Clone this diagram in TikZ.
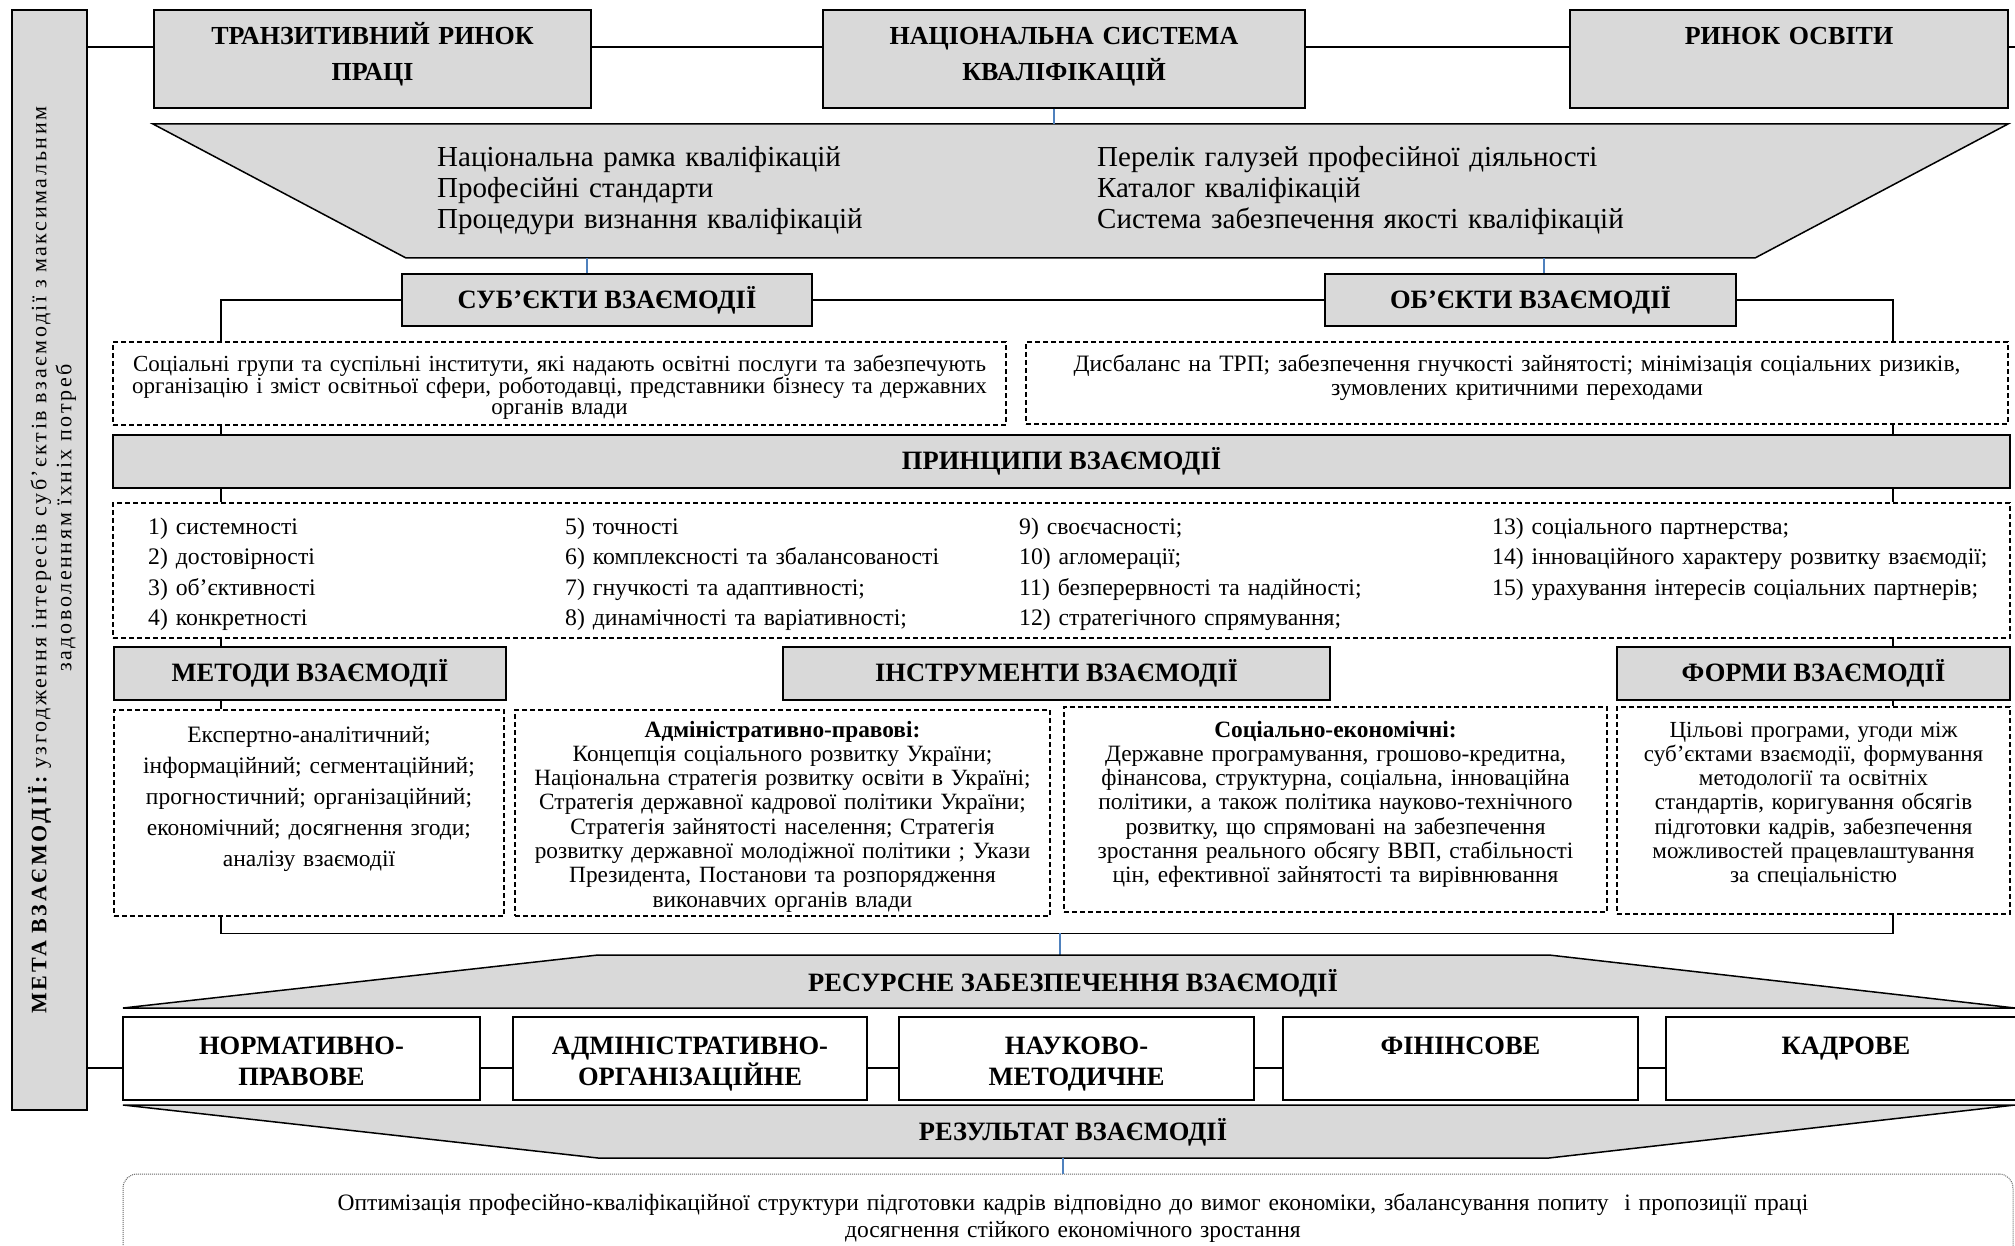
\documentclass[tikz,border=0pt]{standalone}
\usepackage{fontspec}
\setmainfont{Liberation Serif}
\newfontfamily\barfont[LetterSpace=12]{Liberation Serif}
\usetikzlibrary{calc}
\definecolor{boxgray}{RGB}{217,217,217}
\definecolor{linkblue}{RGB}{79,129,189}
\newcommand{\hdrfont}{\fontsize{26.5}{31}\selectfont\bfseries}
\lineskiplimit=-30pt

\begin{document}
\begin{tikzpicture}[x=1pt,y=-1pt,
  gbox/.style={draw,fill=boxgray,line width=1.5pt,inner sep=0pt,font=\hdrfont},
  wbox/.style={draw,fill=white,line width=1.5pt,inner sep=0pt},
  dbox/.style={draw,line width=1.2pt,dash pattern=on 5pt off 3pt,inner sep=0pt},
  txt/.style={inner sep=0pt,align=center,anchor=base},
  link/.style={line width=1.3pt},
  blink/.style={draw=linkblue,line width=1.2pt}]

\useasboundingbox (0,0) rectangle (2015,1246);

\coordinate (toprow) at (0,47);
\coordinate (topend) at (2015,47);
\coordinate (resrow) at (0,1068);
\coordinate (lspine) at (221,0);
\coordinate (rspine) at (1893,0);

% meta bar
\node[gbox, minimum width=75, minimum height=1100] (bar) at (49.5,560) {};
\node[txt, anchor=center, rotate=90, text width=980, font={\barfont\fontsize{22}{25}\selectfont}] (bar-t) at (52,560) {{\bfseries МЕТА ВЗАЄМОДІЇ:} узгодження інтересів суб’єктів взаємодії з максимальним\\\hspace*{84pt}задоволенням їхніх потреб};

% top row
\node[gbox, minimum width=437, minimum height=98] (trp) at (372.5,59) {};
\node[gbox, minimum width=482, minimum height=98] (nsk) at (1064,59) {};
\node[gbox, minimum width=438, minimum height=98] (ro) at (1789,59) {};
\node[txt, text width=430, font={\fontsize{26}{36}\selectfont\bfseries}] (trp-t) at (372.5,45) {ТРАНЗИТИВНИЙ РИНОК\\ПРАЦІ};
\node[txt, text width=470, font={\fontsize{26}{36}\selectfont\bfseries}] (nsk-t) at (1064,45) {НАЦІОНАЛЬНА СИСТЕМА\\КВАЛІФІКАЦІЙ};
\node[txt, text width=430, font={\fontsize{26}{36}\selectfont\bfseries}] (ro-t) at (1789,45) {РИНОК ОСВІТИ};

\draw[link] (bar.east |- toprow) -- (trp.west |- toprow);
\draw[link] (trp.east |- toprow) -- (nsk.west |- toprow);
\draw[link] (nsk.east |- toprow) -- (ro.west |- toprow);
\draw[link] (ro.east |- toprow) -- (topend);

% qualifications
\filldraw[fill=boxgray, line width=1.5pt] (153,124) -- (2008,124) -- (1755,258) -- (406,258) -- cycle;
\coordinate (nrk-in) at (1054,124);
\coordinate (nrk-outl) at (587,258);
\coordinate (nrk-outr) at (1544,258);
\node[txt, anchor=base west, align=left, text width=640, font={\fontsize{29}{31}\selectfont}] (nrk-l) at (437,167) {Національна рамка кваліфікацій\\Професійні стандарти\\Процедури визнання кваліфікацій};
\node[txt, anchor=base west, align=left, text width=640, font={\fontsize{29}{31}\selectfont}] (nrk-r) at (1097,167) {Перелік галузей професійної діяльності\\Каталог кваліфікацій\\Система забезпечення якості кваліфікацій};
\draw[blink] (nsk.south -| nrk-in) -- (nrk-in);

% subjects and objects
\node[gbox, minimum width=410, minimum height=52] (sub) at (607,300) {СУБ’ЄКТИ ВЗАЄМОДІЇ};
\node[gbox, minimum width=411, minimum height=52] (obj) at (1530.5,300) {ОБ’ЄКТИ ВЗАЄМОДІЇ};
\draw[blink] (nrk-outl) -- (sub.north -| nrk-outl);
\draw[blink] (nrk-outr) -- (obj.north -| nrk-outr);

\node[dbox, minimum width=893, minimum height=83] (subd) at (559.5,383.5) {};
\node[dbox, minimum width=982, minimum height=82] (objd) at (1517,383) {};
\node[txt, text width=920, font={\fontsize{23}{21}\selectfont}] (subd-t) at (559.5,371) {Соціальні групи та суспільні інститути, які надають освітні послуги та забезпечують\\організацію і зміст освітньої сфери, роботодавці, представники бізнесу та державних\\органів влади};
\node[txt, text width=990, font={\fontsize{23.5}{24}\selectfont}] (objd-t) at (1517,371) {Дисбаланс на ТРП; забезпечення гнучкості зайнятості; мінімізація соціальних ризиків,\\зумовлених критичними переходами};

\draw[link] (subd.north -| lspine) |- (sub.west);
\draw[link] (sub.east) -- (obj.west);
\draw[link] (obj.east) -| (objd.north -| rspine);

% principles
\node[gbox, minimum width=1897, minimum height=53] (prin) at (1061.5,461.5) {ПРИНЦИПИ ВЗАЄМОДІЇ};
\draw[link] (subd.south -| lspine) -- (prin.north -| lspine);
\draw[link] (objd.south -| rspine) -- (prin.north -| rspine);

\node[dbox, minimum width=1897, minimum height=135] (prind) at (1061.5,570.5) {};
\draw[link] (prin.south -| lspine) -- (prind.north -| lspine);
\draw[link] (prin.south -| rspine) -- (prind.north -| rspine);
\node[txt, anchor=base west, align=left, text width=400, font={\fontsize{23.7}{30.5}\selectfont}] (pr1) at (148,534) {1) системності\\2) достовірності\\3) об’єктивності\\4) конкретності};
\node[txt, anchor=base west, align=left, text width=440, font={\fontsize{23.7}{30.5}\selectfont}] (pr2) at (565,534) {5) точності\\6) комплексності та збалансованості\\7) гнучкості та адаптивності;\\8) динамічності та варіативності;};
\node[txt, anchor=base west, align=left, text width=460, font={\fontsize{23.7}{30.5}\selectfont}] (pr3) at (1019,534) {9) своєчасності;\\10) агломерації;\\11) безперервності та надійності;\\12) стратегічного спрямування;};
\node[txt, anchor=base west, align=left, text width=560, font={\fontsize{23.7}{30.5}\selectfont}] (pr4) at (1492,534) {13) соціального партнерства;\\14) інноваційного характеру розвитку взаємодії;\\15) урахування інтересів соціальних партнерів;};

% methods, tools, forms
\node[gbox, minimum width=392, minimum height=53] (meth) at (310,673.5) {МЕТОДИ ВЗАЄМОДІЇ};
\node[gbox, minimum width=547, minimum height=53] (instr) at (1056.5,673.5) {ІНСТРУМЕНТИ ВЗАЄМОДІЇ};
\node[gbox, minimum width=393, minimum height=53] (form) at (1813.5,673.5) {ФОРМИ ВЗАЄМОДІЇ};
\draw[link] (prind.south -| lspine) -- (meth.north -| lspine);
\draw[link] (prind.south -| rspine) -- (form.north -| rspine);

\node[dbox, minimum width=390, minimum height=206] (methd) at (309,813) {};
\node[dbox, minimum width=535, minimum height=206] (admd) at (782.5,813) {};
\node[dbox, minimum width=543, minimum height=205] (socd) at (1335.5,809.5) {};
\node[dbox, minimum width=393, minimum height=207] (formd) at (1813.5,810.5) {};
\draw[link] (meth.south -| lspine) -- (methd.north -| lspine);
\draw[link] (form.south -| rspine) -- (formd.north -| rspine);

\node[txt, text width=400, font={\fontsize{23.5}{31}\selectfont}] (methd-t) at (309,742) {Експертно-аналітичний;\\інформаційний; сегментаційний;\\прогностичний; організаційний;\\економічний; досягнення згоди;\\аналізу взаємодії};
\node[txt, text width=570, font={\fontsize{23.3}{24.3}\selectfont}] (admd-t) at (782.5,737) {\textbf{Адміністративно-правові:}\\Концепція соціального розвитку України;\\Національна стратегія розвитку освіти в Україні;\\Стратегія державної кадрової політики України;\\Стратегія зайнятості населення; Стратегія\\розвитку державної молодіжної політики ; Укази\\Президента, Постанови та розпорядження\\виконавчих органів влади};
\node[txt, text width=570, font={\fontsize{23.4}{24.3}\selectfont}] (socd-t) at (1335.5,737) {\textbf{Соціально-економічні:}\\Державне програмування, грошово-кредитна,\\фінансова, структурна, соціальна, інноваційна\\політики, а також політика науково-технічного\\розвитку, що спрямовані на забезпечення\\зростання реального обсягу ВВП, стабільності\\цін, ефективної зайнятості та вирівнювання};
\node[txt, text width=400, font={\fontsize{23}{24.3}\selectfont}] (formd-t) at (1813.5,737) {Цільові програми, угоди між\\суб’єктами взаємодії, формування\\методології та освітніх\\стандартів, коригування обсягів\\підготовки кадрів, забезпечення\\можливостей працевлаштування\\за спеціальністю};

\draw[link] (methd.south -| lspine) -- ++(0,17) -| (formd.south -| rspine);
\coordinate (brk-out) at (1060,933);
\coordinate (res-in) at (1060,955);
\draw[blink] (brk-out) -- (res-in);

% resources
\filldraw[fill=boxgray, line width=1.5pt] (123,1008) -- (598,955) -- (1549,955) -- (2015,1008) -- cycle;
\node[txt, anchor=center, font=\hdrfont] (res-t) at (1073,983) {РЕСУРСНЕ ЗАБЕЗПЕЧЕННЯ ВЗАЄМОДІЇ};

\node[wbox, minimum width=357, minimum height=83] (r1) at (301.5,1058.5) {};
\node[wbox, minimum width=354, minimum height=83] (r2) at (690,1058.5) {};
\node[wbox, minimum width=355, minimum height=83] (r3) at (1076.5,1058.5) {};
\node[wbox, minimum width=355, minimum height=83] (r4) at (1460.5,1058.5) {};
\node[wbox, minimum width=364, minimum height=83] (r5) at (1848,1058.5) {};
\node[txt, text width=350, font=\hdrfont] (r1-t) at (301.5,1054) {НОРМАТИВНО-\\ПРАВОВЕ};
\node[txt, text width=350, font=\hdrfont] (r2-t) at (690,1054) {АДМІНІСТРАТИВНО-\\ОРГАНІЗАЦІЙНЕ};
\node[txt, text width=350, font=\hdrfont] (r3-t) at (1076.5,1054) {НАУКОВО-\\МЕТОДИЧНЕ};
\node[txt, text width=350, font=\hdrfont] (r4-t) at (1460.5,1054) {ФІНІНСОВЕ};
\node[txt, text width=350, font=\hdrfont] (r5-t) at (1846,1054) {КАДРОВЕ};

\draw[link] (bar.east |- resrow) -- (r1.west |- resrow);
\draw[link] (r1.east |- resrow) -- (r2.west |- resrow);
\draw[link] (r2.east |- resrow) -- (r3.west |- resrow);
\draw[link] (r3.east |- resrow) -- (r4.west |- resrow);
\draw[link] (r4.east |- resrow) -- (r5.west |- resrow);

% result
\filldraw[fill=boxgray, line width=1.5pt] (123,1105) -- (2015,1105) -- (1549,1158) -- (598,1158) -- cycle;
\node[txt, anchor=center, font=\hdrfont] (rez-t) at (1073,1132) {РЕЗУЛЬТАТ ВЗАЄМОДІЇ};
\coordinate (rez-out) at (1063,1158);

\node[draw=black!60, densely dotted, line width=1pt, rounded corners=14pt, minimum width=1890, minimum height=100, inner sep=0pt] (resb) at (1068,1224) {};
\draw[blink] (rez-out) -- (resb.north -| rez-out);
\node[txt, text width=1850, font={\fontsize{23.5}{27}\selectfont}] (resb-t) at (1073,1210) {Оптимізація професійно-кваліфікаційної структури підготовки кадрів відповідно до вимог економіки, збалансування попиту~ і пропозиції праці\\досягнення стійкого економічного зростання};

\end{tikzpicture}
\end{document}
